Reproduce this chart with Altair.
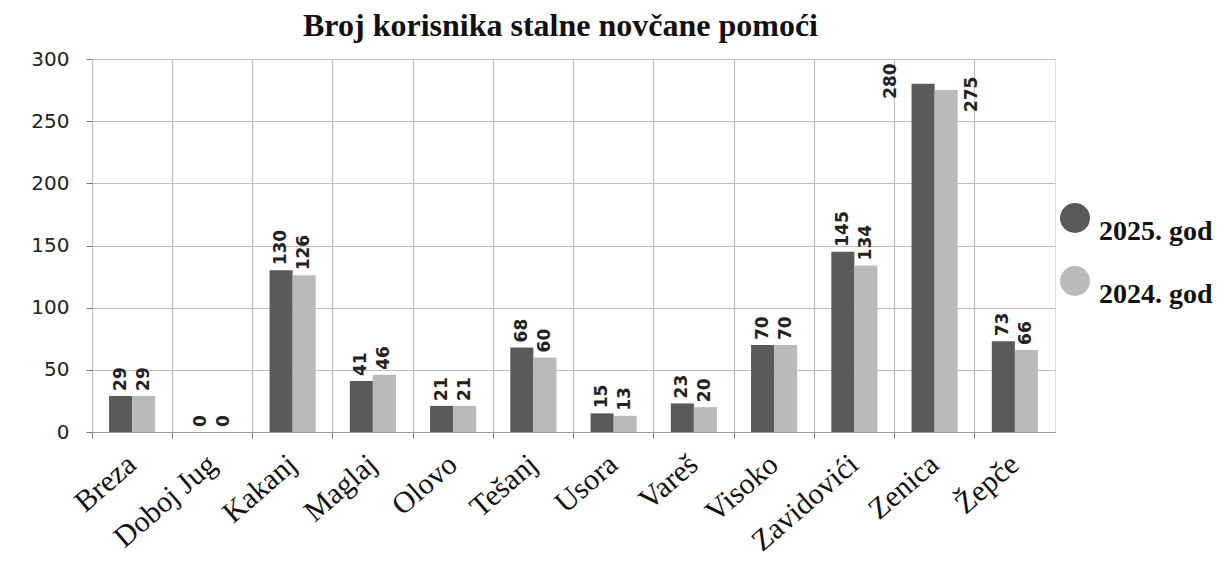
import altair as alt
import pandas as pd

categories = ["Breza", "Doboj Jug", "Kakanj", "Maglaj", "Olovo", "Tešanj", "Usora",
              "Vareš", "Visoko", "Zavidovići", "Zenica", "Žepče"]
series = ["2025. god", "2024. god"]
values_2025 = [29, 0, 130, 41, 21, 68, 15, 23, 70, 145, 280, 73]
values_2024 = [29, 0, 126, 46, 21, 60, 13, 20, 70, 134, 275, 66]
y_ticks = [0, 50, 100, 150, 200, 250, 300]

rows = []
for c, a, b in zip(categories, values_2025, values_2024):
    rows.append({"opstina": c, "godina": series[0], "broj": a})
    rows.append({"opstina": c, "godina": series[1], "broj": b})
df = pd.DataFrame(rows)

x = alt.X("opstina:N", sort=categories, title=None,
          scale=alt.Scale(paddingInner=0, paddingOuter=0),
          axis=alt.Axis(labelAngle=-41, labelFont="Liberation Serif", labelFontSize=30,
                        labelColor="#111", labelAlign="right", labelBaseline="middle",
                        labelPadding=22, bandPosition=0, grid=True, gridColor="#bdbdbd",
                        gridWidth=1.2, tickColor="#777", tickSize=6, domainColor="#999"))
xo = alt.XOffset("godina:N", sort=series, scale=alt.Scale(domain=series, paddingOuter=0.74, paddingInner=0))
y = alt.Y("broj:Q", title=None,
          scale=alt.Scale(domain=[0, 300], nice=False),
          axis=alt.Axis(values=y_ticks, labelFont="DejaVu Sans", labelFontSize=20,
                        labelColor="#222", labelPadding=17, tickSize=6, tickColor="#777",
                        gridColor="#bdbdbd", gridWidth=1.2, domain=False))

bars = alt.Chart(df).mark_bar().encode(
    x=x, xOffset=xo, y=y,
    color=alt.Color("godina:N", sort=series,
                    scale=alt.Scale(domain=series, range=["#5a5a5a", "#bababa"]),
                    legend=alt.Legend(title=None, orient="none", legendX=968, legendY=144,
                                      symbolType="circle", symbolSize=900,
                                      symbolStrokeWidth=0, labelFont="Liberation Serif",
                                      labelFontWeight="bold", labelFontSize=28,
                                      labelColor="#111", labelBaseline="top",
                                      rowPadding=20, labelOffset=9)),
)

text_style = dict(angle=270, baseline="middle", font="DejaVu Sans", fontWeight="bold",
                  fontSize=17, color="#222", align="left")

labels_out = alt.Chart(df).transform_filter("datum.broj <= 250").mark_text(
    dx=5, **text_style).encode(
    x=x, xOffset=xo, y=y, text=alt.Text("broj:Q"))

labels_top_a = alt.Chart(df).transform_filter(
    "datum.broj > 250 && datum.godina == '2025. god'").mark_text(
    dx=-15, dy=-32, **text_style).encode(
    x=x, xOffset=xo, y=y, text=alt.Text("broj:Q"))

labels_top_b = alt.Chart(df).transform_filter(
    "datum.broj > 250 && datum.godina == '2024. god'").mark_text(
    dx=-22, dy=26, **text_style).encode(
    x=x, xOffset=xo, y=y, text=alt.Text("broj:Q"))

chart = alt.layer(bars, labels_out, labels_top_a, labels_top_b).properties(
    width=963, height=373,
    padding={"left": 22, "top": 2, "right": 5, "bottom": 5},
    title=alt.TitleParams("Broj korisnika stalne novčane pomoći", font="Liberation Serif",
                          fontSize=32, fontWeight="bold", color="#111", anchor="middle",
                          offset=6, dx=-13),
).configure_view(stroke="#bdbdbd", strokeWidth=1.2).configure(background="white")

chart.save("out.html", embed_options={"renderer": "svg", "actions": False})
